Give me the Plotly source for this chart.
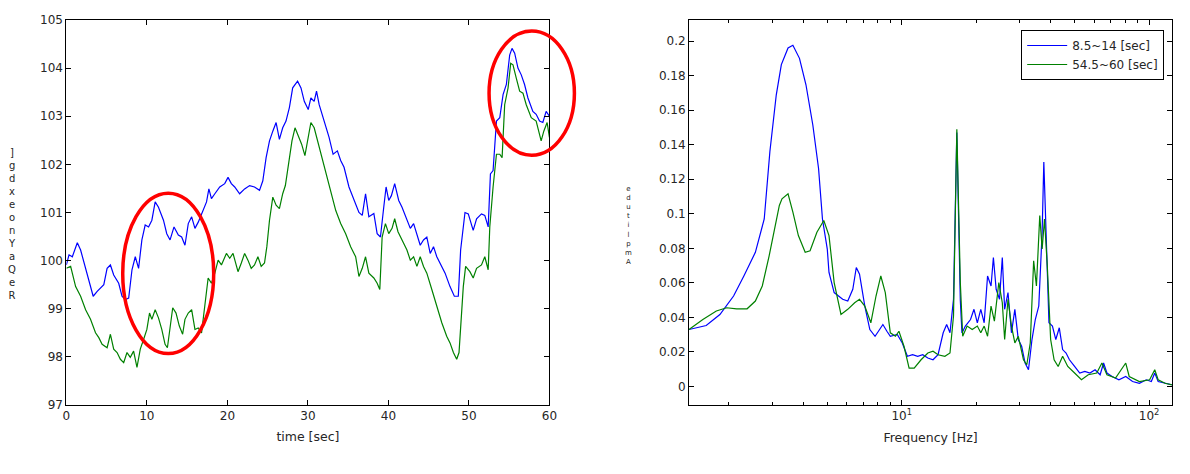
import plotly.graph_objects as go

# ---------------- data: left panel (time series) ----------------
t_blue = [0.00, 0.33, 0.74, 1.36, 1.77, 2.59, 3.33, 3.83, 4.65, 5.06,
          5.47, 5.88, 6.50, 6.91, 7.33, 7.74, 8.15, 8.56, 8.97, 9.38,
          9.79, 10.21, 10.62, 11.03, 11.44, 12.06, 12.47, 12.88, 13.37, 13.91,
          14.32, 14.73, 15.14, 15.56, 15.97, 16.38, 17.00, 17.41, 17.70, 18.02,
          18.44, 19.05, 19.67, 20.08, 20.49, 20.91, 21.52, 22.14, 22.76, 23.37,
          23.99, 24.40, 24.81, 25.23, 25.64, 26.05, 26.46, 26.87, 27.28, 27.70,
          28.11, 28.72, 29.14, 29.55, 30.04, 30.37, 30.78, 31.07, 31.40, 32.02,
          32.63, 33.13, 33.66, 34.07, 34.49, 35.10, 35.72, 36.34, 36.75, 37.16,
          37.57, 38.19, 38.60, 39.01, 39.42, 39.71, 40.04, 40.37, 40.78, 41.28,
          41.69, 42.10, 42.72, 43.13, 43.54, 43.95, 44.36, 44.77, 45.19, 45.60,
          46.01, 46.42, 47.04, 47.65, 48.19, 48.68, 48.97, 49.51, 49.92, 50.53,
          50.95, 51.56, 51.97, 52.39, 52.67, 53.00, 53.42, 53.83, 54.24, 54.65,
          55.06, 55.35, 55.68, 56.09, 56.50, 56.91, 57.33, 57.94, 58.35, 58.77,
          59.18, 59.59, 60.00]
v_blue = [99.91, 100.12, 100.08, 100.37, 100.22, 99.74, 99.26, 99.36, 99.50, 99.84,
          99.91, 99.70, 99.53, 99.26, 99.19, 99.22, 99.81, 100.08, 99.84, 100.43,
          100.74, 100.70, 100.84, 101.22, 101.11, 100.84, 100.56, 100.43, 100.70, 100.53,
          100.49, 100.32, 100.77, 100.91, 100.67, 100.80, 101.04, 101.22, 101.49, 101.29,
          101.39, 101.53, 101.60, 101.73, 101.60, 101.53, 101.39, 101.49, 101.56, 101.53,
          101.46, 101.66, 102.14, 102.49, 102.69, 102.87, 102.52, 102.76, 102.90, 103.18,
          103.59, 103.73, 103.59, 103.31, 103.14, 103.38, 103.31, 103.52, 103.24, 102.90,
          102.56, 102.21, 102.28, 102.08, 101.94, 101.53, 101.25, 101.00, 100.94, 101.39,
          100.91, 100.98, 100.56, 100.49, 101.11, 101.53, 101.25, 101.35, 101.60, 101.25,
          101.11, 100.94, 100.67, 100.77, 100.56, 100.32, 100.43, 100.49, 100.15, 100.29,
          100.08, 99.95, 99.74, 99.46, 99.26, 99.26, 100.22, 101.00, 100.97, 100.63,
          100.87, 100.97, 100.94, 100.70, 101.80, 101.87, 102.90, 102.97, 103.45, 103.66,
          104.27, 104.41, 104.31, 104.00, 103.86, 103.66, 103.38, 103.10, 103.04, 102.90,
          102.87, 103.10, 103.00]

t_green = [0.00, 0.53, 1.15, 1.77, 2.39, 3.00, 3.62, 4.03, 4.44, 5.06,
           5.47, 5.88, 6.30, 6.71, 7.12, 7.53, 7.94, 8.35, 8.77, 9.18,
           9.59, 10.00, 10.33, 10.62, 11.03, 11.44, 11.85, 12.26, 12.55, 12.88,
           13.21, 13.62, 14.03, 14.44, 14.73, 15.14, 15.56, 15.97, 16.38, 16.79,
           17.20, 17.61, 18.02, 18.44, 18.85, 19.26, 19.88, 20.29, 20.70, 21.32,
           21.73, 22.14, 22.55, 22.96, 23.37, 23.79, 24.20, 24.61, 24.90, 25.23,
           25.64, 26.05, 26.46, 26.87, 27.20, 27.61, 28.02, 28.40, 28.81, 29.22,
           29.63, 30.04, 30.37, 30.78, 31.19, 31.60, 32.22, 32.84, 33.46, 34.07,
           34.69, 35.31, 35.93, 36.34, 36.75, 37.16, 37.57, 38.19, 38.60, 38.93,
           39.22, 39.63, 40.04, 40.45, 40.78, 41.19, 41.69, 42.30, 42.72, 43.13,
           43.54, 43.95, 44.36, 44.77, 45.39, 46.01, 46.63, 47.24, 47.65, 48.07,
           48.48, 48.77, 49.01, 49.30, 49.59, 50.12, 50.53, 50.95, 51.56, 51.97,
           52.39, 52.59, 53.00, 53.42, 53.83, 54.12, 54.44, 54.86, 55.19, 55.47,
           55.88, 56.30, 56.71, 57.12, 57.74, 58.35, 58.97, 59.30, 59.71, 60.00]
v_green = [99.84, 99.88, 99.46, 99.26, 98.98, 98.78, 98.50, 98.40, 98.26, 98.19,
           98.47, 98.16, 98.09, 97.95, 97.88, 98.09, 97.99, 98.12, 97.78, 98.16,
           98.36, 98.57, 98.91, 98.78, 98.98, 98.81, 98.57, 98.26, 98.19, 98.57,
           99.02, 98.91, 98.64, 98.47, 98.78, 98.91, 98.98, 98.57, 98.60, 98.50,
           99.05, 99.64, 99.53, 99.74, 100.01, 99.91, 100.15, 100.05, 100.15, 99.77,
           99.95, 100.15, 100.01, 99.84, 99.91, 100.08, 99.88, 99.95, 100.29, 100.84,
           101.32, 101.15, 101.08, 101.39, 101.56, 102.08, 102.49, 102.76, 102.59, 102.42,
           102.18, 102.56, 102.87, 102.76, 102.49, 102.21, 101.80, 101.39, 101.04, 100.77,
           100.56, 100.29, 100.08, 99.67, 99.84, 100.08, 99.74, 99.64, 99.53, 99.40,
           100.49, 100.77, 100.56, 100.67, 100.87, 100.60, 100.43, 100.22, 100.01, 100.08,
           99.88, 100.08, 99.88, 99.74, 99.40, 99.05, 98.71, 98.43, 98.29, 98.09,
           97.95, 98.09, 98.78, 99.46, 99.88, 99.77, 99.64, 99.84, 99.91, 100.08,
           99.81, 100.70, 101.53, 102.21, 102.21, 102.14, 103.24, 103.59, 104.10, 104.07,
           103.79, 103.52, 103.48, 103.24, 102.97, 102.90, 102.49, 102.69, 102.87, 102.56]

# highlighted regions (red ellipses): time span and value span
ellipse_t = [(7.0, 18.3), (52.5, 63.1)]
ellipse_v = [(98.07, 101.40), (102.19, 104.77)]

# ---------------- data: right panel (spectrum) ----------------
f_blue = [1.38, 1.62, 1.84, 2.09, 2.30, 2.56, 2.78, 2.93, 3.11, 3.26,
          3.47, 3.63, 3.86, 4.10, 4.37, 4.61, 4.78, 5.00, 5.08, 5.33,
          5.77, 6.05, 6.34, 6.55, 6.75, 7.09, 7.43, 7.80, 8.05, 8.39,
          8.71, 8.99, 9.59, 10.05, 10.54, 11.06, 11.60, 12.16, 12.75, 13.38,
          14.02, 14.71, 15.19, 15.67, 16.19, 16.70, 17.25, 17.52, 18.08, 18.97,
          19.59, 20.21, 20.87, 21.54, 22.23, 22.96, 23.47, 24.08, 24.85, 25.50,
          26.06, 26.89, 27.77, 28.66, 29.59, 30.53, 31.53, 32.54, 33.61, 34.67,
          35.81, 36.95, 37.53, 38.40, 39.37, 40.66, 41.96, 43.34, 44.71, 46.17,
          47.64, 49.98, 52.44, 54.95, 57.65, 60.48, 63.39, 65.46, 67.54, 70.86,
          75.51, 80.46, 85.74, 91.37, 97.37, 102.1, 105.4, 108.8, 116.0, 123.6]
a_blue = [0.0330, 0.0353, 0.0417, 0.0524, 0.0640, 0.0777, 0.0970, 0.1359, 0.1689, 0.1864,
          0.1960, 0.1976, 0.1900, 0.1747, 0.1514, 0.1262, 0.0970, 0.0796, 0.0660, 0.0544,
          0.0505, 0.0495, 0.0563, 0.0689, 0.0650, 0.0466, 0.0330, 0.0291, 0.0320, 0.0359,
          0.0320, 0.0291, 0.0301, 0.0252, 0.0175, 0.0184, 0.0175, 0.0184, 0.0165, 0.0155,
          0.0184, 0.0311, 0.0359, 0.0311, 0.0505, 0.1470, 0.0500, 0.0310, 0.0350, 0.0388,
          0.0447, 0.0369, 0.0447, 0.0369, 0.0640, 0.0582, 0.0747, 0.0563, 0.0505, 0.0747,
          0.0447, 0.0544, 0.0311, 0.0447, 0.0272, 0.0233, 0.0136, 0.0097, 0.0272, 0.0388,
          0.0466, 0.0893, 0.1300, 0.0893, 0.0369, 0.0350, 0.0272, 0.0340, 0.0214, 0.0194,
          0.0155, 0.0116, 0.0078, 0.0087, 0.0078, 0.0097, 0.0068, 0.0136, 0.0078, 0.0058,
          0.0039, 0.0058, 0.0029, 0.0019, 0.0039, 0.0029, 0.0078, 0.0029, 0.0019, 0.0010]

f_green = [1.38, 1.57, 1.78, 1.96, 2.15, 2.37, 2.56, 2.73, 2.91, 3.05,
           3.20, 3.28, 3.47, 3.63, 3.82, 4.07, 4.26, 4.54, 4.84, 5.08,
           5.33, 5.68, 6.05, 6.45, 6.75, 7.09, 7.50, 7.87, 8.23, 8.58,
           8.99, 9.43, 9.74, 10.21, 10.71, 11.23, 11.97, 12.75, 13.38, 14.02,
           14.94, 15.67, 16.19, 16.70, 17.25, 17.64, 18.38, 19.27, 20.21, 20.87,
           21.54, 22.23, 22.96, 23.69, 24.69, 25.50, 26.06, 26.89, 27.77, 28.66,
           29.59, 31.05, 32.03, 33.08, 34.14, 35.04, 36.14, 36.95, 37.77, 38.76,
           39.99, 41.30, 42.89, 44.71, 46.90, 49.98, 53.27, 56.75, 61.44, 64.44,
           67.54, 73.17, 80.46, 83.10, 91.37, 100.5, 105.4, 108.8, 116.0, 123.6]
a_green = [0.0330, 0.0388, 0.0437, 0.0456, 0.0450, 0.0450, 0.0495, 0.0582, 0.0757, 0.0893,
           0.1048, 0.1087, 0.1116, 0.1010, 0.0874, 0.0777, 0.0786, 0.0893, 0.0961, 0.0874,
           0.0602, 0.0417, 0.0447, 0.0485, 0.0505, 0.0466, 0.0369, 0.0524, 0.0640, 0.0544,
           0.0311, 0.0291, 0.0320, 0.0233, 0.0107, 0.0107, 0.0155, 0.0194, 0.0204, 0.0184,
           0.0175, 0.0194, 0.0408, 0.1490, 0.0602, 0.0291, 0.0350, 0.0330, 0.0350, 0.0311,
           0.0350, 0.0291, 0.0466, 0.0379, 0.0602, 0.0485, 0.0272, 0.0505, 0.0350, 0.0252,
           0.0291, 0.0155, 0.0126, 0.0252, 0.0728, 0.0582, 0.0990, 0.0796, 0.0970, 0.0699,
           0.0272, 0.0155, 0.0116, 0.0175, 0.0116, 0.0078, 0.0039, 0.0068, 0.0078, 0.0136,
           0.0068, 0.0049, 0.0136, 0.0058, 0.0029, 0.0039, 0.0097, 0.0039, 0.0019, 0.0010]

series_names = ["8.5~14 [sec]", "54.5~60 [sec]"]
left_ylabel_chars = ["]", "g", "d", "x", "e", "o", "n", "Y", "a", "Q", "e", "R"]
right_ylabel_chars = ["e", "d", "u", "t", "i", "l", "p", "m", "A"]
time_ticks = [0, 10, 20, 30, 40, 50, 60]
value_ticks = [97, 98, 99, 100, 101, 102, 103, 104, 105]
amp_ticks = [0, 0.02, 0.04, 0.06, 0.08, 0.1, 0.12, 0.14, 0.16, 0.18, 0.2]
amp_tick_text = ["0", "0.02", "0.04", "0.06", "0.08", "0.1", "0.12", "0.14", "0.16", "0.18", "0.2"]

# ---------------- layout constants ----------------
W, H = 1190, 474
MT, MB = 20, 69
PH = H - MT - MB
BLUE = "#0000ff"
GREEN = "#008000"
FONT = "DejaVu Sans, Liberation Sans, Arial"
TXT = "#262626"
X1RANGE = [0, 60]
Y1RANGE = [97, 105]
X2RANGE = [0.14, 2.093]
Y2RANGE = [-0.0107, 0.2122]


def py(pix):
    return 1 - (pix - MT) / PH


fig = go.Figure()
fig.add_trace(go.Scatter(x=t_blue, y=v_blue, mode="lines", line=dict(color=BLUE, width=1.2),
                         showlegend=False, xaxis="x", yaxis="y"))
fig.add_trace(go.Scatter(x=t_green, y=v_green, mode="lines", line=dict(color=GREEN, width=1.2),
                         showlegend=False, xaxis="x", yaxis="y"))
fig.add_trace(go.Scatter(x=f_blue, y=a_blue, mode="lines", name=series_names[0],
                         line=dict(color=BLUE, width=1.2), xaxis="x2", yaxis="y2"))
fig.add_trace(go.Scatter(x=f_green, y=a_green, mode="lines", name=series_names[1],
                         line=dict(color=GREEN, width=1.2), xaxis="x2", yaxis="y2"))

# red ellipses, placed relative to axis domain so they may spill outside the frame
for (t0, t1), (v0, v1) in zip(ellipse_t, ellipse_v):
    sx = X1RANGE[1] - X1RANGE[0]
    sy = Y1RANGE[1] - Y1RANGE[0]
    fig.add_shape(type="circle", xref="x domain", yref="y domain",
                  x0=(t0 - X1RANGE[0]) / sx, x1=(t1 - X1RANGE[0]) / sx,
                  y0=(v0 - Y1RANGE[0]) / sy, y1=(v1 - Y1RANGE[0]) / sy,
                  line=dict(color="#ff0000", width=3.5), layer="above")

axis_common = dict(showline=True, linecolor="black", linewidth=1, mirror="ticks",
                   ticks="inside", ticklen=5, tickcolor="black", showgrid=False,
                   zeroline=False, tickfont=dict(family=FONT, size=12, color=TXT))

fig.update_layout(
    width=W, height=H,
    margin=dict(l=0, r=0, t=MT, b=MB),
    paper_bgcolor="white", plot_bgcolor="white",
    font=dict(family=FONT, size=12, color=TXT),
    xaxis=dict(domain=[63 / W, 551 / W], range=X1RANGE, tickvals=time_ticks,
               title=dict(text="time [sec]", standoff=9, font=dict(size=12.5)),
               anchor="y", **axis_common),
    yaxis=dict(domain=[0, 1], range=Y1RANGE, tickvals=value_ticks, anchor="x", **axis_common),
    xaxis2=dict(domain=[692 / W, 1180 / W], type="log", range=X2RANGE,
                tickvals=[10, 100], ticktext=["10<sup>1</sup>", "10<sup>2</sup>"],
                minor=dict(tickvals=[2, 3, 4, 5, 6, 7, 8, 9, 20, 30, 40, 50, 60, 70, 80, 90],
                           ticks="inside", ticklen=3, tickcolor="black"),
                title=dict(text="Frequency [Hz]", standoff=10, font=dict(size=12.5)),
                anchor="y2", **axis_common),
    yaxis2=dict(domain=[0, 1], range=Y2RANGE, tickvals=amp_ticks, ticktext=amp_tick_text,
                anchor="x2", **axis_common),
    legend=dict(x=1172 / W, xanchor="right", y=py(30), yanchor="top",
                bgcolor="white", bordercolor="black", borderwidth=1,
                font=dict(family=FONT, size=12, color=TXT), itemwidth=40,
                tracegroupgap=0),
)

# stacked (upright) y-axis label glyphs, as in the source figure
fig.add_annotation(xref="paper", yref="paper", x=8 / W, y=py(224),
                   text="<br>".join(left_ylabel_chars), showarrow=False,
                   font=dict(family=FONT, size=10, color=TXT),
                   xanchor="center", yanchor="middle", align="center")
fig.add_annotation(xref="paper", yref="paper", x=631 / W, y=py(226),
                   text="<br>".join(right_ylabel_chars), showarrow=False,
                   font=dict(family=FONT, size=7, color=TXT),
                   xanchor="center", yanchor="middle", align="center")

fig.write_html("out.html")
